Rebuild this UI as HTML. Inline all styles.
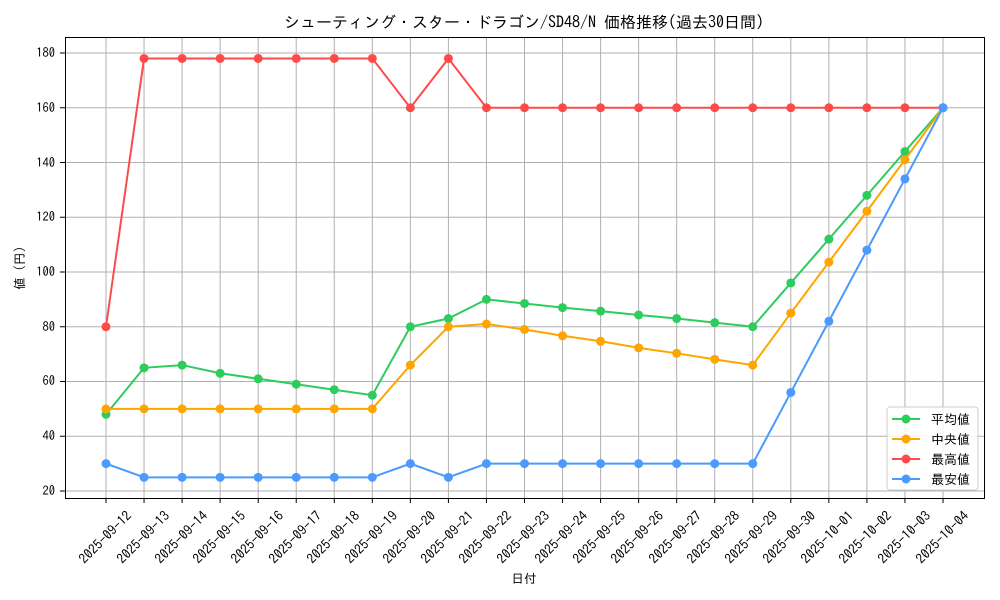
<!DOCTYPE html>
<html><head><meta charset="utf-8"><style>
body{margin:0;background:#fff}
svg{display:block;font-family:"IPAGothic","Noto Sans CJK JP",sans-serif}
</style></head><body>
<svg id="s" width="1000" height="600" viewBox="0 0 1000 600" xmlns="http://www.w3.org/2000/svg">
<rect width="1000" height="600" fill="#fff"/>
<text x="524" y="28" font-size="16" text-anchor="middle">シューティング・スター・ドラゴン/SD48/N 価格推移(過去30日間)</text>
<g id="grid" stroke="#b0b0b0" stroke-width="1"></g>
<g id="series"></g>
<rect x="65.5" y="37.5" width="919" height="461" fill="none" stroke="#000" stroke-width="1"/>
<g font-size="12.5" text-anchor="end">
<text x="55" y="495">20</text><text x="55" y="440">40</text><text x="55" y="385">60</text><text x="55" y="331">80</text><text x="55" y="276">100</text><text x="55" y="221">120</text><text x="55" y="167">140</text><text x="55" y="112">160</text><text x="55" y="57">180</text>
</g>
<g id="xl" font-size="13.5" text-anchor="middle" dominant-baseline="central">
<text transform="translate(105,537) rotate(-45)">2025-09-12</text>
<text transform="translate(143,537) rotate(-45)">2025-09-13</text>
<text transform="translate(181,537) rotate(-45)">2025-09-14</text>
<text transform="translate(219,537) rotate(-45)">2025-09-15</text>
<text transform="translate(257,537) rotate(-45)">2025-09-16</text>
<text transform="translate(295,537) rotate(-45)">2025-09-17</text>
<text transform="translate(333,537) rotate(-45)">2025-09-18</text>
<text transform="translate(371,537) rotate(-45)">2025-09-19</text>
<text transform="translate(409,537) rotate(-45)">2025-09-20</text>
<text transform="translate(447,537) rotate(-45)">2025-09-21</text>
<text transform="translate(485,537) rotate(-45)">2025-09-22</text>
<text transform="translate(523,537) rotate(-45)">2025-09-23</text>
<text transform="translate(561,537) rotate(-45)">2025-09-24</text>
<text transform="translate(599,537) rotate(-45)">2025-09-25</text>
<text transform="translate(637,537) rotate(-45)">2025-09-26</text>
<text transform="translate(675,537) rotate(-45)">2025-09-27</text>
<text transform="translate(713,537) rotate(-45)">2025-09-28</text>
<text transform="translate(751,537) rotate(-45)">2025-09-29</text>
<text transform="translate(789,537) rotate(-45)">2025-09-30</text>
<text transform="translate(827,537) rotate(-45)">2025-10-01</text>
<text transform="translate(865,537) rotate(-45)">2025-10-02</text>
<text transform="translate(904,537) rotate(-45)">2025-10-03</text>
<text transform="translate(942,537) rotate(-45)">2025-10-04</text>
</g>
<text x="524" y="583" font-size="12.5" text-anchor="middle">日付</text>
<text transform="translate(24,268) rotate(-90)" font-size="12.5" text-anchor="middle">値 (円)</text>
<g>
<rect x="887" y="407" width="91" height="83" rx="3" fill="#fff" fill-opacity="0.85" stroke="#ccc"/>
<line x1="892" y1="419" x2="920" y2="419" stroke="#2ecc5e" stroke-width="2"/><circle cx="906" cy="419" r="4.5" fill="#2ecc5e"/>
<line x1="892" y1="439" x2="920" y2="439" stroke="#ffa500" stroke-width="2"/><circle cx="906" cy="439" r="4.5" fill="#ffa500"/>
<line x1="892" y1="459" x2="920" y2="459" stroke="#ff4a4a" stroke-width="2"/><circle cx="906" cy="459" r="4.5" fill="#ff4a4a"/>
<line x1="892" y1="479" x2="920" y2="479" stroke="#4a9aff" stroke-width="2"/><circle cx="906" cy="479" r="4.5" fill="#4a9aff"/>
<g font-size="13"><text x="931" y="424">平均値</text><text x="931" y="444">中央値</text><text x="931" y="464">最高値</text><text x="931" y="484">最安値</text></g>
</g>
</svg>
<script>
var NS="http://www.w3.org/2000/svg";
function X(i){return 106+i*38.045}
function Y(v){return 491-(v-20)*2.7375}
var g=document.getElementById("grid");
for(var i=0;i<23;i++){var l=document.createElementNS(NS,"line");l.setAttribute("x1",X(i));l.setAttribute("x2",X(i));l.setAttribute("y1",38);l.setAttribute("y2",498);g.appendChild(l);
var t=document.createElementNS(NS,"line");t.setAttribute("x1",X(i));t.setAttribute("x2",X(i));t.setAttribute("y1",498);t.setAttribute("y2",503);t.setAttribute("stroke","#000");g.appendChild(t);}
for(var v=20;v<=180;v+=20){var l=document.createElementNS(NS,"line");l.setAttribute("x1",65);l.setAttribute("x2",984);l.setAttribute("y1",Y(v));l.setAttribute("y2",Y(v));g.appendChild(l);
var t=document.createElementNS(NS,"line");t.setAttribute("x1",60);t.setAttribute("x2",65);t.setAttribute("y1",Y(v));t.setAttribute("y2",Y(v));t.setAttribute("stroke","#000");g.appendChild(t);}
var S=[
["#2ecc5e",[48,65,66,63,61,59,57,55,80,83,90,88.5,87,85.7,84.3,83,81.5,80,96,112,128,144,160]],
["#ffa500",[50,50,50,50,50,50,50,50,66,80,81,79,76.7,74.7,72.3,70.3,68.1,66,85,103.6,122.2,141,160]],
["#ff4a4a",[80,178,178,178,178,178,178,178,160,178,160,160,160,160,160,160,160,160,160,160,160,160,160]],
["#4a9aff",[30,25,25,25,25,25,25,25,30,25,30,30,30,30,30,30,30,30,56,82,108,134,160]]];
var sg=document.getElementById("series");
S.forEach(function(s){var p=document.createElementNS(NS,"polyline");p.setAttribute("points",s[1].map(function(v,i){return X(i)+","+Y(v)}).join(" "));p.setAttribute("fill","none");p.setAttribute("stroke",s[0]);p.setAttribute("stroke-width",2);sg.appendChild(p);
s[1].forEach(function(v,i){var c=document.createElementNS(NS,"circle");c.setAttribute("cx",X(i));c.setAttribute("cy",Y(v));c.setAttribute("r",4.5);c.setAttribute("fill",s[0]);sg.appendChild(c);});});
</script>
</body></html>
